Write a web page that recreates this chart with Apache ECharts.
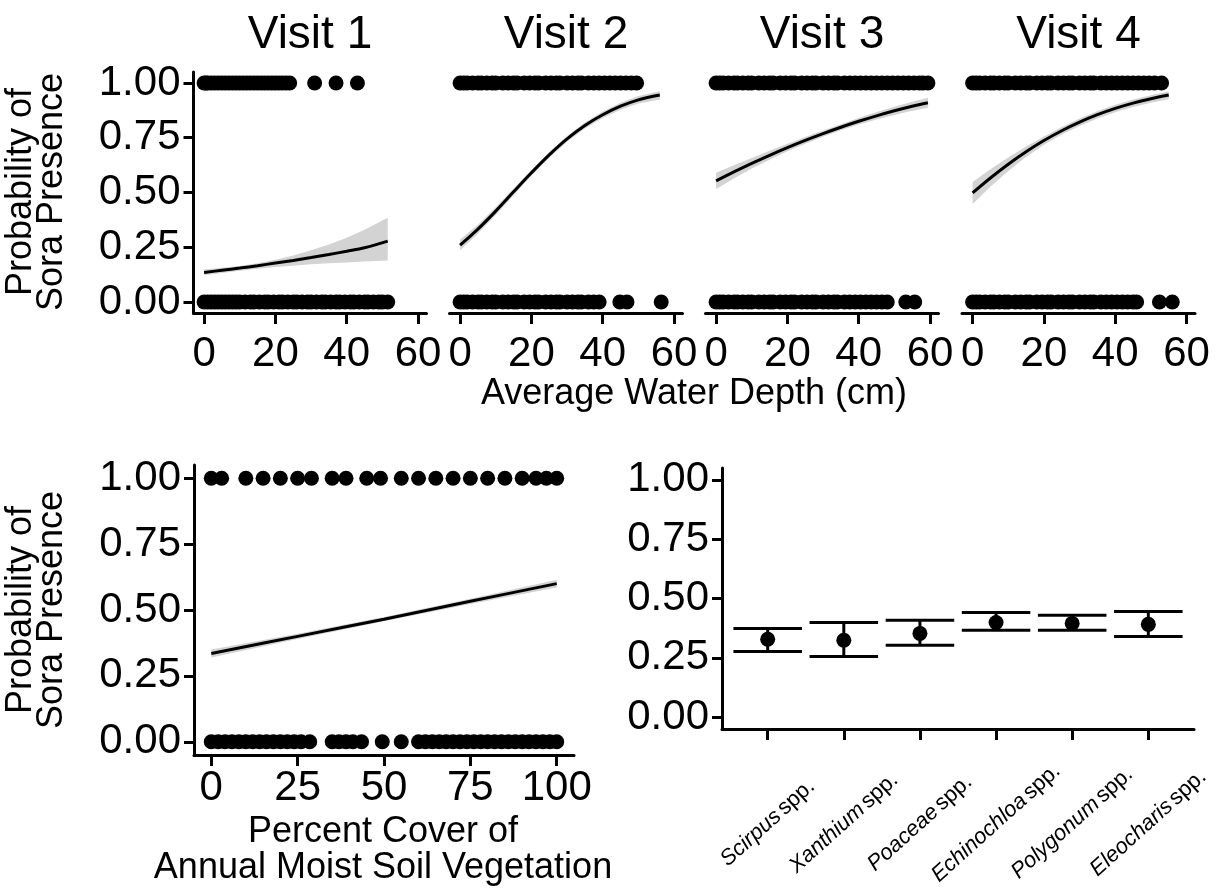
<!DOCTYPE html>
<html>
<head>
<meta charset="utf-8">
<script src="https://cdn.jsdelivr.net/npm/echarts@6/dist/echarts.min.js"></script>
<style>
  html, body { margin: 0; padding: 0; background: #fff; }
  #chart { width: 1220px; height: 895px; }
</style>
</head>
<body>
<div id="chart"></div>
<script>
// ---- tick labels and titles ----
const visitTitles = ['Visit 1', 'Visit 2', 'Visit 3', 'Visit 4'];
const depthTicks = [0, 20, 40, 60];
const probTicks = [0, 0.25, 0.5, 0.75, 1];
const coverTicks = [0, 25, 50, 75, 100];

// ---- water depth (cm) of surveyed points, sora detected (1) / not detected (0) ----
const v1Present = [0, 0.5, 1, 2, 3, 4, 5, 6, 7, 8, 9, 10, 11, 12, 13, 14, 15, 16, 17, 18, 19, 20, 21, 22, 23, 24, 31, 37, 43];
const v1Absent = [0, 1, 2, 3, 4, 5, 6, 7, 8, 9, 10, 11.5, 13, 14, 15.5, 17, 18, 19.5, 21, 22, 23.5, 25, 26, 27.5, 29, 30, 31.5, 33, 34, 35.5, 37, 38, 39.5, 41, 42, 43.5, 45, 46, 47.5, 49, 50, 51.5];
const v2Present = [0, 1, 2, 3.5, 5, 6, 7.5, 9, 10, 12, 13.5, 15, 16, 18, 19.5, 21, 22, 24, 25.5, 27, 28, 30, 31.5, 33, 34, 36, 37.5, 39, 40.5, 42, 43.5, 45, 46.5, 48, 49.5];
const v2Absent = [0, 1, 2, 3.5, 5, 6, 7.5, 9, 10, 12, 13.5, 15, 16, 18, 19.5, 21, 22, 24, 25.5, 27, 28, 30, 31.5, 33, 34, 36, 37.5, 39, 44.8, 46.8, 56.4];
const v3Present = [0, 1, 2, 3.5, 5, 6, 7.5, 9, 10, 12, 13.5, 15, 16, 18, 19.5, 21, 22, 24, 25.5, 27, 28, 30, 31.5, 33, 34, 36, 37.5, 39, 40.5, 42, 43.5, 45, 46.5, 48, 49.5, 51, 52.5, 54, 55.5, 57, 58, 59.4];
const v3Absent = [0, 1, 2, 3.5, 5, 6, 7.5, 9, 10, 12, 13.5, 15, 16, 18, 19.5, 21, 22, 24, 25.5, 27, 28, 30, 31.5, 33, 34, 36, 37.5, 39, 40.5, 42, 43.5, 45, 46.5, 48, 53.2, 55.7];
const v4Present = [0, 1, 2, 3.5, 5, 6, 7.5, 9, 10, 12, 13.5, 15, 16, 18, 19.5, 21, 22, 24, 25.5, 27, 28, 30, 31.5, 33, 34, 36, 37.5, 39, 40.5, 42, 43.5, 45, 46.5, 48, 49.5, 51, 53];
const v4Absent = [0, 1, 2, 3.5, 5, 6, 7.5, 9, 10, 12, 13.5, 15, 16, 18, 19.5, 21, 22, 24, 25.5, 27, 28, 30, 31.5, 33, 34, 36, 37.5, 39, 40.5, 42, 43.5, 45, 46, 52.4, 56];

// ---- fitted probability and 95% band against water depth ----
const v1Depth = [0, 5, 10, 15, 20, 25, 30, 35, 40, 45, 51.5];
const v1Fit = [0.135, 0.145, 0.155, 0.166, 0.178, 0.190, 0.203, 0.217, 0.232, 0.248, 0.278];
const v1Upper = [0.148, 0.156, 0.165, 0.177, 0.193, 0.213, 0.236, 0.263, 0.294, 0.330, 0.385];
const v1Lower = [0.122, 0.133, 0.143, 0.152, 0.160, 0.166, 0.172, 0.177, 0.181, 0.185, 0.190];

const v2Depth = [0, 5, 10, 15, 20, 25, 30, 35, 40, 45, 50, 56];
const v2Fit = [0.260, 0.333, 0.415, 0.503, 0.590, 0.672, 0.745, 0.806, 0.855, 0.894, 0.923, 0.945];
const v2Upper = [0.285, 0.353, 0.433, 0.518, 0.603, 0.685, 0.758, 0.820, 0.870, 0.910, 0.940, 0.962];
const v2Lower = [0.235, 0.313, 0.397, 0.488, 0.577, 0.659, 0.732, 0.792, 0.840, 0.878, 0.906, 0.925];

const v3Depth = [0, 5, 10, 15, 20, 25, 30, 35, 40, 45, 50, 55, 59.4];
const v3Fit = [0.553, 0.594, 0.633, 0.670, 0.705, 0.738, 0.769, 0.798, 0.825, 0.850, 0.873, 0.894, 0.910];
const v3Upper = [0.590, 0.624, 0.657, 0.690, 0.722, 0.753, 0.783, 0.812, 0.840, 0.867, 0.891, 0.914, 0.932];
const v3Lower = [0.516, 0.564, 0.609, 0.650, 0.688, 0.723, 0.755, 0.784, 0.810, 0.833, 0.854, 0.873, 0.887];

const v4Depth = [0, 5, 10, 15, 20, 25, 30, 35, 40, 45, 50, 55];
const v4Fit = [0.498, 0.566, 0.629, 0.686, 0.737, 0.782, 0.821, 0.855, 0.884, 0.908, 0.928, 0.945];
const v4Upper = [0.548, 0.606, 0.660, 0.710, 0.756, 0.799, 0.838, 0.871, 0.900, 0.924, 0.944, 0.962];
const v4Lower = [0.448, 0.526, 0.598, 0.662, 0.718, 0.765, 0.804, 0.838, 0.866, 0.890, 0.910, 0.926];

// ---- percent cover of annual moist soil vegetation ----
const coverPresent = [0, 3, 10, 15, 20, 25, 29, 35, 39, 45, 49, 55, 60, 65, 70, 75, 80, 85, 90, 94, 97, 100];
const coverAbsent = [0, 2, 4, 6, 8, 10, 12, 14, 16, 18, 20, 22, 24, 26, 28.5, 35, 37, 39, 41, 43.5, 49.5, 55, 60, 62, 64, 66, 68, 70, 72, 74, 76, 78, 80, 82, 84, 86, 88, 90, 92, 94, 96, 98, 100];
const coverX = [0, 25, 50, 75, 100];
const coverFit = [0.335, 0.40, 0.465, 0.533, 0.60];
const coverUpper = [0.35, 0.41, 0.473, 0.543, 0.615];
const coverLower = [0.32, 0.39, 0.457, 0.523, 0.585];

// ---- dominant plant genus: estimate with 95% interval ----
const genera = ['Scirpus', 'Xanthium', 'Poaceae', 'Echinochloa', 'Polygonum', 'Eleocharis'];
const genusEstimate = [0.328, 0.324, 0.353, 0.399, 0.395, 0.391];
const genusLower = [0.277, 0.256, 0.303, 0.366, 0.366, 0.340];
const genusUpper = [0.374, 0.399, 0.408, 0.441, 0.429, 0.445];

// ---- drawing ----
const FONT = '"Liberation Sans", Arial, sans-serif';
const BLACK = '#000';
const BAND = '#d3d3d3';
const TICK_FONT = 42;
const TITLE_FONT = 36;

const chart = echarts.init(document.getElementById('chart'), null, { renderer: 'canvas' });

const visits = [
  { present: v1Present, absent: v1Absent, depth: v1Depth, fit: v1Fit, upper: v1Upper, lower: v1Lower },
  { present: v2Present, absent: v2Absent, depth: v2Depth, fit: v2Fit, upper: v2Upper, lower: v2Lower },
  { present: v3Present, absent: v3Absent, depth: v3Depth, fit: v3Fit, upper: v3Upper, lower: v3Lower },
  { present: v4Present, absent: v4Absent, depth: v4Depth, fit: v4Fit, upper: v4Upper, lower: v4Lower }
];

const panelLefts = [193.5, 449.5, 705.5, 962];
const panelWidth = 233;

const axisLineStyle = { color: BLACK, width: 3 };

function valueXAxis(gridIndex, min, max, ticks, margin) {
  return {
    gridIndex, type: 'value', min, max,
    axisLine: { show: true, onZero: false, lineStyle: axisLineStyle },
    axisTick: { show: true, length: 11, lineStyle: axisLineStyle, customValues: ticks },
    axisLabel: { customValues: ticks, fontSize: TICK_FONT, color: BLACK, fontFamily: FONT, margin },
    splitLine: { show: false }
  };
}
function probYAxis(gridIndex, visible) {
  return {
    gridIndex, type: 'value', min: -0.05, max: 1.05,
    axisLine: { show: visible, onZero: false, lineStyle: axisLineStyle },
    axisTick: { show: visible, length: 10, lineStyle: axisLineStyle, customValues: probTicks },
    axisLabel: { show: visible, customValues: probTicks, formatter: v => v.toFixed(2), fontSize: TICK_FONT, color: BLACK, fontFamily: FONT, margin: 13 },
    splitLine: { show: false }
  };
}
function dots(axisIndex, xs, y) {
  return {
    type: 'scatter', xAxisIndex: axisIndex, yAxisIndex: axisIndex, z: 2, silent: true,
    symbol: 'circle', symbolSize: 15, itemStyle: { color: BLACK, opacity: 1 },
    data: xs.map(x => [x, y])
  };
}
function band(axisIndex, xs, lo, hi) {
  return {
    type: 'custom', xAxisIndex: axisIndex, yAxisIndex: axisIndex, z: 1, silent: true,
    data: [[xs[0], lo[0]]],
    renderItem: (params, api) => {
      const pts = [];
      for (let k = 0; k < xs.length; k++) pts.push(api.coord([xs[k], hi[k]]));
      for (let k = xs.length - 1; k >= 0; k--) pts.push(api.coord([xs[k], lo[k]]));
      return { type: 'polygon', shape: { points: pts }, style: { fill: BAND } };
    }
  };
}
function fitLine(axisIndex, xs, ys) {
  return {
    type: 'line', xAxisIndex: axisIndex, yAxisIndex: axisIndex, z: 3, silent: true,
    smooth: 0.35, showSymbol: false, lineStyle: { color: BLACK, width: 3 },
    data: xs.map((x, k) => [x, ys[k]])
  };
}

const grid = [], xAxis = [], yAxis = [], series = [];

visits.forEach((v, i) => {
  grid.push({ left: panelLefts[i], top: 72, width: panelWidth, height: 241 });
  xAxis.push(valueXAxis(i, -2.97, 62.37, depthTicks, 20));
  yAxis.push(probYAxis(i, i === 0));
  series.push(band(i, v.depth, v.lower, v.upper));
  series.push(fitLine(i, v.depth, v.fit));
  series.push(dots(i, v.present, 1));
  series.push(dots(i, v.absent, 0));
});

// percent cover panel
grid.push({ left: 194, top: 465, width: 380, height: 290 });
xAxis.push(valueXAxis(4, -5, 105, coverTicks, 12));
yAxis.push(probYAxis(4, true));
series.push(band(4, coverX, coverLower, coverUpper));
series.push(fitLine(4, coverX, coverFit));
series.push(dots(4, coverPresent, 1));
series.push(dots(4, coverAbsent, 0));

// genus panel
const genusPos = genera.map((g, k) => k + 1);
grid.push({ left: 722, top: 468, width: 472, height: 261 });
xAxis.push({
  gridIndex: 5, type: 'value', min: 0.4, max: genera.length + 0.6,
  axisLine: { show: true, onZero: false, lineStyle: axisLineStyle },
  axisTick: { show: true, length: 11, lineStyle: axisLineStyle, customValues: genusPos },
  axisLabel: {
    customValues: genusPos, rotate: 42, align: 'center', verticalAlign: 'middle', margin: 94,
    formatter: v => '{g|' + genera[Math.round(v) - 1] + '} {s|spp.}',
    rich: {
      g: { fontStyle: 'italic', fontSize: 22, fontFamily: FONT, color: BLACK },
      s: { fontSize: 22, fontFamily: FONT, color: BLACK }
    }
  },
  splitLine: { show: false }
});
yAxis.push(probYAxis(5, true));
series.push({
  type: 'custom', xAxisIndex: 5, yAxisIndex: 5, z: 2, silent: true,
  data: genusPos.map((p, k) => [p, genusLower[k], genusUpper[k]]),
  renderItem: (params, api) => {
    const x = api.value(0);
    const lo = api.coord([x, api.value(1)]);
    const hi = api.coord([x, api.value(2)]);
    const half = api.size([0.9, 0])[0] / 2;
    const st = { stroke: BLACK, lineWidth: 3 };
    return {
      type: 'group', children: [
        { type: 'line', shape: { x1: lo[0] - half, y1: lo[1], x2: lo[0] + half, y2: lo[1] }, style: st },
        { type: 'line', shape: { x1: hi[0] - half, y1: hi[1], x2: hi[0] + half, y2: hi[1] }, style: st },
        { type: 'line', shape: { x1: lo[0], y1: lo[1], x2: hi[0], y2: hi[1] }, style: st }
      ]
    };
  }
});
series.push({
  type: 'scatter', xAxisIndex: 5, yAxisIndex: 5, z: 3, silent: true,
  symbol: 'circle', symbolSize: 15, itemStyle: { color: BLACK, opacity: 1 },
  data: genusPos.map((p, k) => [p, genusEstimate[k]])
});

function label(text, x, y, size, rotation) {
  return {
    type: 'text', x, y, rotation: rotation || 0, silent: true,
    style: { text, font: size + 'px ' + FONT, fill: BLACK, align: 'center', verticalAlign: 'middle' }
  };
}

const graphic = [];
visitTitles.forEach((t, i) => graphic.push(label(t, panelLefts[i] + panelWidth / 2, 35, 46)));
graphic.push(label('Average Water Depth (cm)', 694, 394, TITLE_FONT));
graphic.push(label('Probability of', 21, 192, TITLE_FONT, Math.PI / 2));
graphic.push(label('Sora Presence', 52, 192, TITLE_FONT, Math.PI / 2));
graphic.push(label('Probability of', 21, 610, TITLE_FONT, Math.PI / 2));
graphic.push(label('Sora Presence', 52, 610, TITLE_FONT, Math.PI / 2));
graphic.push(label('Percent Cover of', 383, 832, TITLE_FONT));
graphic.push(label('Annual Moist Soil Vegetation', 383, 868, TITLE_FONT));

chart.setOption({
  animation: false,
  backgroundColor: '#fff',
  textStyle: { fontFamily: FONT, color: BLACK },
  grid, xAxis, yAxis, series, graphic
});
</script>
</body>
</html>
